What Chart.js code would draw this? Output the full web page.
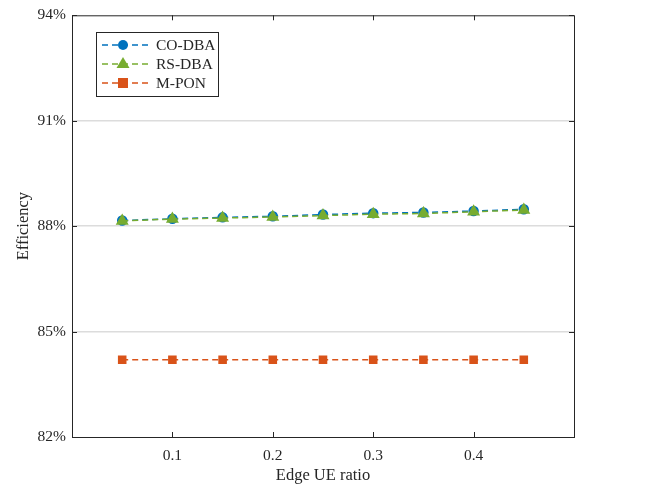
<html>
<head>
  <script src="https://cdn.jsdelivr.net/npm/chart.js"></script>
</head>
<body style="margin:0;background:#fff">

<div style="width:660px;height:490px">
  <canvas id="myChart" width="660" height="490"></canvas>
</div>

<script>

  // data
  const edgeRatio = [0.05, 0.1, 0.15, 0.2, 0.25, 0.3, 0.35, 0.4, 0.45];
  const coDba = [88.16, 88.21, 88.25, 88.28, 88.33, 88.37, 88.39, 88.43, 88.48];
  const rsDba = [88.15, 88.20, 88.23, 88.26, 88.30, 88.34, 88.36, 88.41, 88.46];
  const mPon = [84.2, 84.2, 84.2, 84.2, 84.2, 84.2, 84.2, 84.2, 84.2];
  const xTicks = [0.1, 0.2, 0.3, 0.4];
  const yTicks = [82, 85, 88, 91, 94];

  const FONT = "'Liberation Serif', 'DejaVu Serif', serif";

  function pts(ys) {
    return edgeRatio.map((x, i) => ({x: x, y: ys[i]}));
  }

  // box, inward ticks and a legend inside the axes, matlab style
  const boxPlugin = {
    id: 'box',
    afterDraw(chart) {
      const c = chart.ctx;
      const a = chart.chartArea;
      const xs = chart.scales.x, ys = chart.scales.y;
      c.save();
      c.strokeStyle = '#262626';
      c.lineWidth = 1;
      c.strokeRect(a.left + 0.5, a.top + 0.5, a.right - a.left, a.bottom - a.top);
      c.beginPath();
      xTicks.forEach(v => {
        let px = Math.round(xs.getPixelForValue(v)) + 0.5;
        c.moveTo(px, a.bottom); c.lineTo(px, a.bottom - 5);
        c.moveTo(px, a.top); c.lineTo(px, a.top + 5);
      });
      yTicks.forEach(v => {
        let py = Math.round(ys.getPixelForValue(v)) + 0.5;
        c.moveTo(a.left, py); c.lineTo(a.left + 5, py);
        c.moveTo(a.right, py); c.lineTo(a.right - 5, py);
      });
      c.stroke();

      // legend (rows in dataset order)
      const lx = 96, ly = 32, lw = 122, lh = 64;
      c.fillStyle = '#fff';
      c.fillRect(lx, ly, lw, lh);
      c.strokeStyle = '#262626';
      c.strokeRect(lx + 0.5, ly + 0.5, lw, lh);
      chart.data.datasets.forEach((ds, i) => {
        let y = ly + 13 + i * 19;
        c.strokeStyle = ds.borderColor;
        c.lineWidth = 1.5;
        c.setLineDash([6, 4]);
        c.beginPath();
        c.moveTo(lx + 6, y); c.lineTo(lx + 52, y);
        c.stroke();
        c.setLineDash([]);
        c.fillStyle = ds.pointBackgroundColor;
        let cx = lx + 27;
        if (ds.pointStyle === 'circle') {
          c.beginPath(); c.arc(cx, y, 5, 0, Math.PI * 2); c.fill();
        } else if (ds.pointStyle === 'triangle') {
          c.beginPath(); c.moveTo(cx, y - 7); c.lineTo(cx + 6.5, y + 4); c.lineTo(cx - 6.5, y + 4); c.closePath(); c.fill();
        } else {
          c.fillRect(cx - 5, y - 5, 10, 10);
        }
        c.fillStyle = '#262626';
        c.font = '15.5px ' + FONT;
        c.textBaseline = 'middle';
        c.fillText(ds.label, lx + 60, y + 1);
      });
      c.restore();
    }
  };

  const ctx = document.getElementById('myChart');
  var chart = new Chart(ctx, {
    type: 'line',
    data: {
      datasets: [
        {
          label: 'CO-DBA',
          data: pts(coDba),
          order: 1,
          borderColor: '#0072BD',
          pointBackgroundColor: '#0072BD',
          pointBorderColor: '#0072BD',
          pointStyle: 'circle',
          pointRadius: 4.5,
          borderDash: [6, 4],
          borderWidth: 1.5,
        },
        {
          label: 'RS-DBA',
          data: pts(rsDba),
          order: 0,
          borderColor: '#77AC30',
          pointBackgroundColor: '#77AC30',
          pointBorderColor: '#77AC30',
          pointStyle: 'triangle',
          pointRadius: 6,
          borderDash: [6, 4],
          borderWidth: 1.5,
        },
        {
          label: 'M-PON',
          data: pts(mPon),
          order: 2,
          borderColor: '#D95319',
          pointBackgroundColor: '#D95319',
          pointBorderColor: '#D95319',
          pointStyle: 'rect',
          pointRadius: 5,
          borderDash: [6, 4],
          borderWidth: 1.5,
        },
      ]
    },
    options: {
      responsive: false,
      animation: false,
      layout: {
        padding: {top: 13, right: 86, left: 0, bottom: 0}
      },
      plugins: {
        legend: {display: false},
        tooltip: {enabled: false}
      },
      scales: {
        x: {
          type: 'linear',
          min: 0,
          max: 0.5,
          afterBuildTicks: s => { s.ticks = xTicks.map(v => ({value: v})); },
          afterFit: s => { s.height = 53; },
          grid: {display: false, drawTicks: false},
          border: {display: false},
          ticks: {
            color: '#262626',
            padding: 10,
            maxRotation: 0,
            font: {family: FONT, size: 15.5},
            callback: v => v.toFixed(1)
          },
          title: {
            display: true,
            text: 'Edge UE ratio',
            color: '#262626',
            padding: {top: 0},
            font: {family: FONT, size: 16.5}
          }
        },
        y: {
          min: 82,
          max: 94,
          afterBuildTicks: s => { s.ticks = yTicks.map(v => ({value: v})); },
          afterFit: s => { s.width = 72; },
          grid: {
            drawTicks: false,
            color: ctx => (ctx.tick && (ctx.tick.value === 82 || ctx.tick.value === 94)) ? 'rgba(0,0,0,0)' : '#dcdcdc',
            lineWidth: 1.5
          },
          border: {display: false},
          ticks: {
            color: '#262626',
            padding: 6,
            font: {family: FONT, size: 15.5},
            callback: v => v + '%'
          },
          title: {
            display: true,
            text: 'Efficiency',
            color: '#262626',
            padding: {top: 14, bottom: 0},
            font: {family: FONT, size: 16.5}
          }
        }
      }
    },
    plugins: [boxPlugin]
  });

</script>

</body>
</html>
